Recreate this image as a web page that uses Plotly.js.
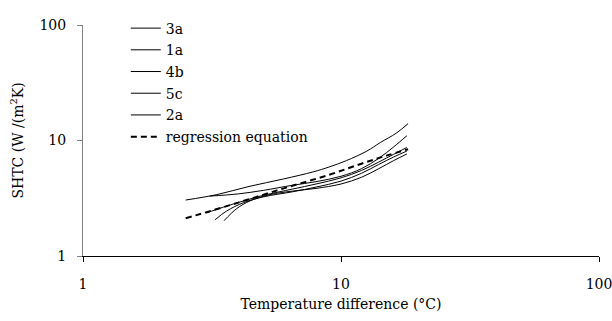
<!DOCTYPE html>
<html>
<head>
<meta charset="utf-8">
<script src="https://cdn.plot.ly/plotly-3.0.1.min.js"></script>
<style>html,body{margin:0;padding:0;background:#fff;}#chart{width:612px;height:321px;}</style>
</head>
<body>
<div id="chart"></div>
<script>
// Series names
const seriesNames = ["3a", "1a", "4b", "5c", "2a"];
// Temperature difference (°C) and SHTC (W/(m²K))
const x3a = [2.5, 3.3, 4.4, 6.0, 7.8, 9.0, 10.5, 12.6, 14.2, 16.4, 18.2];
const y3a = [3.05, 3.4, 4.0, 4.65, 5.35, 5.9, 6.7, 8.1, 9.6, 11.6, 14.0];
const x1a = [3.1, 4.0, 5.0, 6.5, 8.0, 10.0, 12.0, 14.0, 16.0, 18.0];
const y1a = [3.3, 3.45, 3.7, 4.1, 4.4, 4.9, 5.7, 7.0, 8.8, 11.0];
const x4b = [3.0, 3.5, 4.2, 5.0, 6.5, 8.0, 10.0, 12.0, 14.0, 16.0, 18.0];
const y4b = [2.35, 2.65, 3.0, 3.35, 3.8, 4.2, 4.75, 5.5, 6.5, 7.6, 8.7];
const x5c = [3.25, 3.6, 4.2, 5.0, 6.5, 8.0, 10.0, 12.0, 14.0, 16.0, 18.0];
const y5c = [2.06, 2.45, 2.9, 3.25, 3.6, 3.95, 4.45, 5.2, 6.2, 7.2, 8.1];
const x2a = [3.52, 3.94, 4.44, 5.3, 6.5, 8.0, 10.0, 12.0, 14.0, 16.0, 18.0];
const y2a = [2.02, 2.57, 3.0, 3.4, 3.65, 3.85, 4.2, 4.8, 5.7, 6.7, 7.65];
const xReg = [2.5, 4.0, 6.0, 9.0, 12.0, 15.0, 18.2];
const yReg = [2.12, 2.9, 3.85, 5.05, 6.3, 7.4, 8.4];
const regName = "regression equation";

const xTickVals = [1, 10, 100];
const xTickText = ["1", "10", "100"];
const yTickVals = [1, 10, 100];
const yTickText = ["1", "10", "100"];

const FONT = "DejaVu Serif, serif";
const FS = 14;

const solidX = [x3a, x1a, x4b, x5c, x2a];
const solidY = [y3a, y1a, y4b, y5c, y2a];
const traces = seriesNames.map((n, i) => ({
  x: solidX[i], y: solidY[i], name: n, type: "scatter", mode: "lines",
  line: {color: "#000", width: 1, shape: "spline"}, legendgroup: "g" + i
}));
traces.push({
  x: xReg, y: yReg, name: regName, type: "scatter", mode: "lines",
  line: {color: "#000", width: 2, dash: "6px,4px", shape: "spline"}, legendgroup: "g5"
});

const layout = {
  width: 612, height: 321,
  margin: {l: 83, r: 13, t: 16, b: 65},
  paper_bgcolor: "#fff", plot_bgcolor: "#fff",
  font: {family: FONT, size: FS, color: "#000"},
  showlegend: true,
  legend: {
    x: 0.083, y: 1.054, xanchor: "left", yanchor: "top",
    bgcolor: "rgba(0,0,0,0)", font: {family: FONT, size: FS, color: "#000"},
    tracegroupgap: 0.5, traceorder: "grouped", itemwidth: 30
  },
  xaxis: {
    type: "log", range: [0, 2], tickvals: xTickVals, ticktext: xTickText,
    showgrid: false, zeroline: false, showline: true, linecolor: "#000", linewidth: 1,
    ticks: "outside", ticklen: 5, tickcolor: "#000", ticklabelstandoff: 10,
    ticklabeloverflow: "allow",
    tickfont: {family: FONT, size: FS, color: "#000"},
    title: {text: "Temperature difference (°C)", font: {family: FONT, size: FS, color: "#000"}, standoff: 8}
  },
  yaxis: {
    type: "log", range: [0, 2], tickvals: yTickVals, ticktext: yTickText,
    showgrid: false, zeroline: false, showline: true, linecolor: "#808080", linewidth: 1,
    ticks: "outside", ticklen: 5, tickcolor: "#808080", ticklabelstandoff: 8,
    ticklabeloverflow: "allow",
    tickfont: {family: FONT, size: FS, color: "#000"},
    title: {text: "SHTC (W /(m<sup>2</sup>K)", font: {family: FONT, size: FS, color: "#000"}, standoff: 12}
  }
};

Plotly.newPlot("chart", traces, layout, {staticPlot: true, displayModeBar: false});
</script>
</body>
</html>
